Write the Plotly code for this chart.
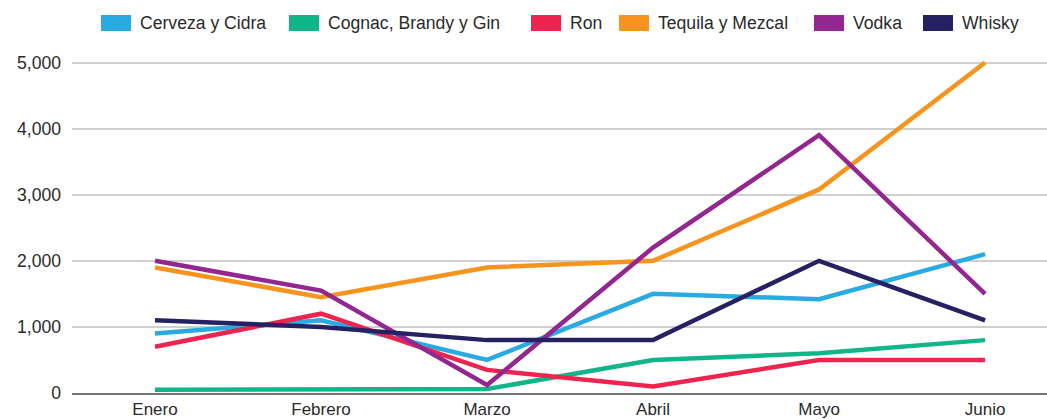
import plotly.graph_objects as go

# Monthly values per spirit category
months = ["Enero", "Febrero", "Marzo", "Abril", "Mayo", "Junio"]
cerveza_cidra = [900, 1100, 500, 1500, 1420, 2100]
cognac_brandy_gin = [50, 60, 60, 500, 600, 800]
ron = [700, 1200, 350, 100, 500, 500]
tequila_mezcal = [1900, 1450, 1900, 2000, 3080, 5000]
vodka = [2000, 1550, 120, 2200, 3900, 1500]
whisky = [1100, 1000, 800, 800, 2000, 1100]
y_ticks = [0, 1000, 2000, 3000, 4000, 5000]

series = [
    ("Cerveza y Cidra", cerveza_cidra, "#29ABE2"),
    ("Cognac, Brandy y Gin", cognac_brandy_gin, "#12B58A"),
    ("Ron", ron, "#EE2450"),
    ("Tequila y Mezcal", tequila_mezcal, "#F7941D"),
    ("Vodka", vodka, "#92278F"),
    ("Whisky", whisky, "#262261"),
]

W, H = 1047, 420
ML, MR, MT, MB = 72, 0, 46, 27
FONT = "Liberation Sans, Arial, sans-serif"
TEXT = "#2a2a2a"

fig = go.Figure()
for name, vals, color in series:
    fig.add_trace(go.Scatter(
        x=months, y=vals, mode="lines", name=name,
        line=dict(color=color, width=4.5), showlegend=False,
    ))

# Legend row drawn as swatches + labels along the top
legend_left_px = [101, 289, 531, 619, 814, 923]
pw, ph = W - ML - MR, H - MT - MB
def px_to_paper_x(px):
    return (px - ML) / pw
def px_to_paper_y(py):
    return (H - MB - py) / ph

shapes, annotations = [], []
for (name, _, color), lx in zip(series, legend_left_px):
    shapes.append(dict(
        type="rect", xref="paper", yref="paper",
        x0=px_to_paper_x(lx), x1=px_to_paper_x(lx + 30),
        y0=px_to_paper_y(31), y1=px_to_paper_y(15),
        fillcolor=color, line=dict(width=0),
    ))
    annotations.append(dict(
        xref="paper", yref="paper", x=px_to_paper_x(lx + 37), y=px_to_paper_y(23),
        xanchor="left", yanchor="middle", text=name, showarrow=False,
        font=dict(family=FONT, size=17.6, color=TEXT),
    ))

fig.update_layout(
    width=W, height=H,
    margin=dict(l=ML, r=MR, t=MT, b=MB, autoexpand=False),
    paper_bgcolor="white", plot_bgcolor="white",
    shapes=shapes, annotations=annotations,
    showlegend=False,
    xaxis=dict(
        range=[-0.5, 5.373], showgrid=False, zeroline=False,
        showline=True, linecolor="#777777", linewidth=1.5,
        ticks="", tickfont=dict(family=FONT, size=17, color=TEXT),
        ticklabelstandoff=0, automargin=False,
    ),
    yaxis=dict(
        range=[0, 5250], tickvals=y_ticks, tickformat=",",
        showgrid=True, gridcolor="#cfcfcf", gridwidth=1.5,
        zeroline=False, showline=False,
        ticks="", tickfont=dict(family=FONT, size=17.6, color=TEXT),
        ticklabelstandoff=10, automargin=False,
    ),
)

fig.write_html("out.html")
